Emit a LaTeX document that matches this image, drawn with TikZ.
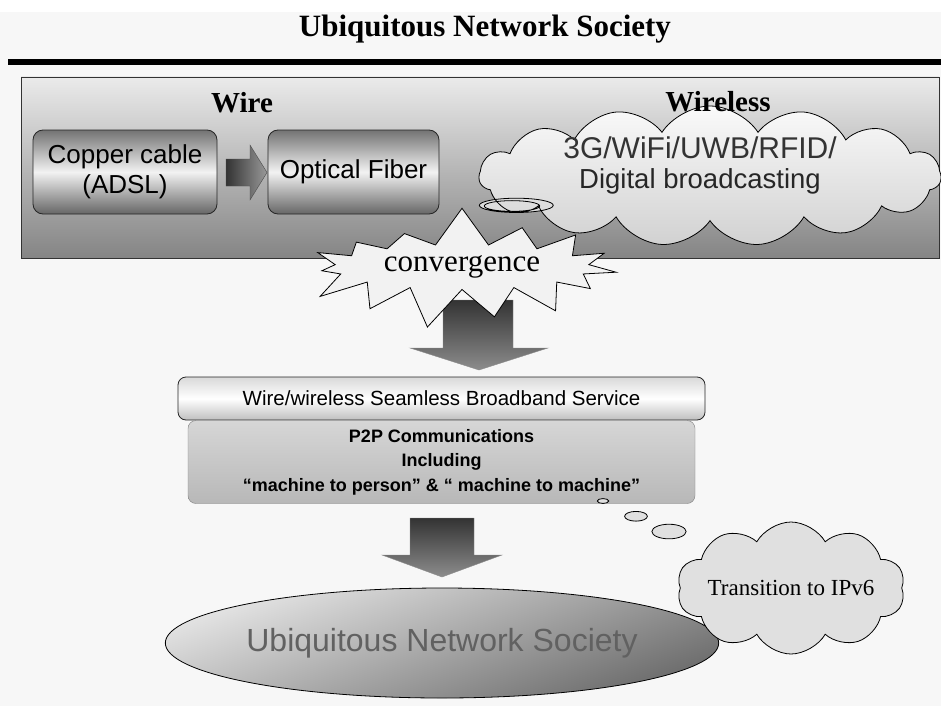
\documentclass[tikz,border=0pt]{standalone}
\usepackage{fontspec}
\setmainfont{Liberation Serif}
\setsansfont{Liberation Sans}
\usetikzlibrary{shapes.geometric,shapes.symbols,shapes.callouts}

\begin{document}
\begin{tikzpicture}[x=1pt,y=-1pt]
        \tikzstyle{title} = [font=\rmfamily\bfseries\fontsize{31}{34}\selectfont, inner sep=0pt, anchor=base]
        \tikzstyle{head} = [font=\rmfamily\bfseries\fontsize{29}{32}\selectfont, inner sep=0pt, anchor=base]
        \tikzstyle{panel} = [draw=black!80, thick, rectangle, top color=black!8, bottom color=black!48]
        \tikzstyle{metal} = [draw=black!85, thick, rectangle, rounded corners=10pt, top color=black!55, bottom color=black!60, middle color=white!95!black, align=center, font=\sffamily\fontsize{26}{30}\selectfont]
        \tikzstyle{rarrow} = [draw=black!70, left color=black!80, right color=black!40]
        \tikzstyle{darrow} = [draw=black!45, top color=black!80, bottom color=black!45]
        \tikzstyle{puff} = [draw=black, thick, cloud, cloud ignores aspect, inner sep=0pt]
        \tikzstyle{bar} = [draw=black!85, thick, rectangle, rounded corners=8pt, top color=black!15, bottom color=black!25, middle color=white, font=\sffamily\fontsize{20.5}{24}\selectfont]
        \tikzstyle{p2p} = [draw=black!50, rectangle, rounded corners=8pt, top color=black!16, bottom color=black!28, align=center, font=\sffamily\bfseries\fontsize{18}{24.5}\selectfont]

        % page
        \useasboundingbox (0,0) rectangle (941,706);
        \fill[black!3] (0,12) rectangle (941,706);
        \node[title] (title) at (485,37) {Ubiquitous Network Society};
        \draw[line width=6pt] (8,62) -- (941,62);

        % wire and wireless
        \node[panel, minimum width=918pt, minimum height=181pt] (panel) at (480,167.5) {};
        \node[head] (wire) at (242,113) {Wire};
        \node[metal, minimum width=184pt, minimum height=84pt] (copper) at (125,172) {Copper cable\\(ADSL)};
        \node[metal, minimum width=171pt, minimum height=84pt] (fiber) at (353.5,172) {Optical Fiber};
        \shade[rarrow] (226,159) -- (250,159) -- (250,145) -- (267,172.5) -- (250,200) -- (250,186) -- (226,186) -- cycle;

        \coordinate (wltip) at (512,206);
        \node[puff, cloud callout, cloud puffs=15, cloud puff arc=115, top color=black!2, bottom color=black!18, minimum width=462pt, minimum height=140pt, callout absolute pointer=(wltip), callout pointer segments=2, callout pointer start size=.2 of callout, callout pointer end size=.12 of callout] (wireless) at (710,176) {};
        \node[font=\sffamily\fontsize{30}{34}\selectfont, inner sep=0pt, anchor=base, text=black!80] (radio) at (700,158) {3G/WiFi/UWB/RFID/};
        \node[font=\sffamily\fontsize{27.5}{32}\selectfont, inner sep=0pt, anchor=base, text=black!85] (bcast) at (700,188) {Digital broadcasting};
        \node[head] (wl) at (718,112) {Wireless};

        % convergence
        \shade[darrow] (443,300) -- (513,300) -- (513,348) -- (548,348) -- (479,370) -- (410,348) -- (443,348) -- cycle;
        \node[starburst, draw=black, thick, fill=black!5, starburst points=15, starburst point height=40pt, random starburst=7, minimum width=335pt, minimum height=125pt, inner sep=0pt, font=\rmfamily\fontsize{31}{34}\selectfont] (conv) at (462,267) {convergence};

        % service
        \node[bar, minimum width=527pt, minimum height=43pt] (bar) at (441.5,398.5) {Wire/wireless Seamless Broadband Service};
        \node[p2p, minimum width=507pt, minimum height=83pt] (p2p) at (441.5,462) {P2P Communications\\Including\\``machine to person'' \& `` machine to machine''};
        \shade[darrow] (410,518) -- (474,518) -- (474,555) -- (502,555) -- (442,577) -- (382,555) -- (410,555) -- cycle;

        % society
        \node[ellipse, draw=black, thick, top color=black!10, bottom color=black!58, shading angle=20, minimum width=442pt, minimum height=110pt, inner sep=0pt, font=\sffamily\fontsize{32}{36}\selectfont, text=black!62] (society) at (442,643) {Ubiquitous Network Society};

        \coordinate (v6tip) at (603,501);
        \node[puff, cloud callout, cloud puffs=10, cloud puff arc=120, fill=black!12, minimum width=222pt, minimum height=132pt, callout absolute pointer=(v6tip), callout pointer segments=3, callout pointer start size=.2 of callout, callout pointer end size=.05 of callout, font=\rmfamily\fontsize{23}{26}\selectfont] (ipv6) at (791,588) {Transition to IPv6};
    \end{tikzpicture}
\end{document}
